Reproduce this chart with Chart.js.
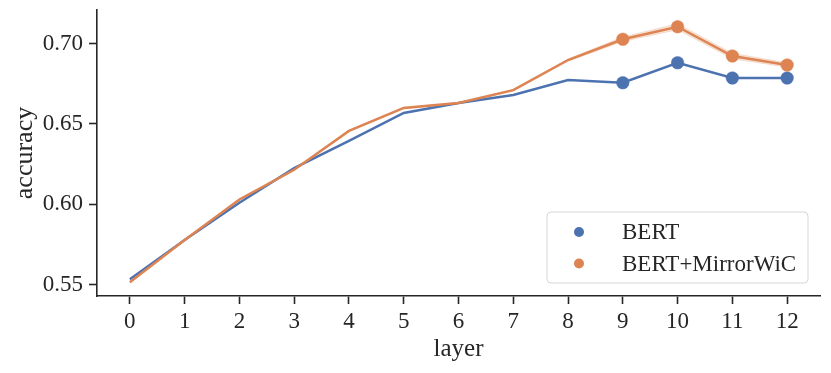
<!DOCTYPE html>
<html lang="en">
<head>
  <meta charset="UTF-8" />
  <title>accuracy by layer</title>
  <script src="https://cdn.jsdelivr.net/npm/chart.js"></script>
  <style>
    html, body { margin: 0; padding: 0; background: #fff; }
    #wrap { width: 831px; height: 373px; }
  </style>
</head>
<body>
  <div id="wrap"><canvas id="accChart" width="831" height="373"></canvas></div>

  <script>
    // data
    const layers = [0, 1, 2, 3, 4, 5, 6, 7, 8, 9, 10, 11, 12];
    const bertAcc = [0.5534, 0.5778, 0.6010, 0.6225, 0.6394, 0.6568, 0.6630, 0.6680, 0.6773, 0.6756, 0.6880, 0.6785, 0.6785];
    const mirrorAcc = [0.5515, 0.5778, 0.6030, 0.6215, 0.6456, 0.6599, 0.6630, 0.6710, 0.6897, 0.7026, 0.7104, 0.6922, 0.6866];
    const mirrorLow = [0.5510, 0.5773, 0.6025, 0.6210, 0.6451, 0.6594, 0.6625, 0.6705, 0.6890, 0.7012, 0.7085, 0.6905, 0.6852];
    const mirrorHigh = [0.5520, 0.5783, 0.6035, 0.6220, 0.6461, 0.6604, 0.6635, 0.6715, 0.6904, 0.7040, 0.7123, 0.6939, 0.6880];
    const markedLayers = [9, 10, 11, 12];
    const xTicks = [0, 1, 2, 3, 4, 5, 6, 7, 8, 9, 10, 11, 12];
    const yTicks = [0.55, 0.60, 0.65, 0.70];
    const seriesNames = ["BERT", "BERT+MirrorWiC"];

    const BLUE = "#4c72b0";
    const ORANGE = "#dd8452";
    const FONT = "'Liberation Serif', 'DejaVu Serif', serif";
    const INK = "#262626";

    const toPoints = arr => arr.map((v, i) => ({ x: layers[i], y: v }));
    const radii = r => layers.map(l => markedLayers.includes(l) ? r : 0);

    // legend drawn inside the plot, like seaborn
    const insideLegend = {
      id: 'insideLegend',
      afterDraw(chart) {
        const ctx = chart.ctx;
        const x0 = 547, y0 = 212, w = 261, h = 71;
        ctx.save();
        ctx.beginPath();
        ctx.roundRect(x0, y0, w, h, 4);
        ctx.fillStyle = "rgba(255,255,255,0.8)";
        ctx.fill();
        ctx.strokeStyle = "#d6d6d6";
        ctx.lineWidth = 1;
        ctx.stroke();
        const colors = [BLUE, ORANGE];
        ctx.font = "23px " + FONT;
        ctx.textBaseline = "middle";
        seriesNames.forEach((name, i) => {
          const cy = 232 + i * 31.5;
          ctx.beginPath();
          ctx.arc(579, cy, 5, 0, Math.PI * 2);
          ctx.fillStyle = colors[i];
          ctx.fill();
          ctx.fillStyle = INK;
          ctx.fillText(name, 622, cy + 1);
        });
        ctx.restore();
      }
    };

    window.addEventListener('DOMContentLoaded', () => {
      new Chart(document.getElementById("accChart"), {
        type: 'line',
        data: {
          datasets: [
            {
              label: seriesNames[0],
              data: toPoints(bertAcc),
              borderColor: BLUE,
              backgroundColor: BLUE,
              borderWidth: 2.5,
              pointRadius: radii(6.3),
              pointHoverRadius: 0,
              pointBorderWidth: 0.5,
              pointBorderColor: BLUE,
              order: 1
            },
            {
              label: seriesNames[1],
              data: toPoints(mirrorAcc),
              borderColor: ORANGE,
              backgroundColor: ORANGE,
              borderWidth: 2.5,
              pointRadius: radii(6.3),
              pointHoverRadius: 0,
              pointBorderWidth: 0.5,
              pointBorderColor: ORANGE,
              order: 0
            },
            {
              label: 'band-high',
              data: toPoints(mirrorHigh),
              borderColor: 'rgba(221,132,82,0.25)',
              borderWidth: 0.8,
              backgroundColor: 'rgba(221,132,82,0.22)',
              pointRadius: 0,
              fill: '+1',
              order: 2
            },
            {
              label: 'band-low',
              data: toPoints(mirrorLow),
              borderColor: 'rgba(221,132,82,0.25)',
              borderWidth: 0.8,
              pointRadius: 0,
              fill: false,
              order: 2
            }
          ]
        },
        options: {
          responsive: false,
          animation: false,
          events: [],
          layout: { padding: { top: 10, right: 11, left: 0, bottom: 0 } },
          scales: {
            x: {
              type: 'linear',
              min: -0.6,
              max: 12.6,
              afterBuildTicks: s => { s.ticks = xTicks.map(v => ({ value: v })); },
              afterFit: s => { s.height = 77; },
              border: { display: true, color: INK, width: 1.6 },
              grid: { drawOnChartArea: false, drawTicks: true, tickLength: 8, tickColor: INK, tickWidth: 1.6 },
              ticks: { color: INK, padding: 4, font: { size: 23, family: FONT }, maxRotation: 0, autoSkip: false },
              title: { display: true, text: 'layer', color: INK, font: { size: 25, family: FONT }, padding: { top: 0, bottom: 9 } }
            },
            y: {
              min: 0.543,
              max: 0.7208,
              afterBuildTicks: s => { s.ticks = yTicks.map(v => ({ value: v })); },
              afterFit: s => { s.width = 97; s.paddingTop = 0; s.paddingBottom = 0; },
              border: { display: true, color: INK, width: 1.6 },
              grid: { drawOnChartArea: false, drawTicks: true, tickLength: 8, tickColor: INK, tickWidth: 1.6 },
              ticks: { color: INK, padding: 6, font: { size: 23, family: FONT }, callback: v => v.toFixed(2) },
              title: { display: true, text: 'accuracy', color: INK, font: { size: 26, family: FONT }, padding: { top: 10, bottom: 0 } }
            }
          },
          plugins: {
            legend: { display: false },
            tooltip: { enabled: false }
          }
        },
        plugins: [insideLegend]
      });
    });
  </script>
</body>
</html>
